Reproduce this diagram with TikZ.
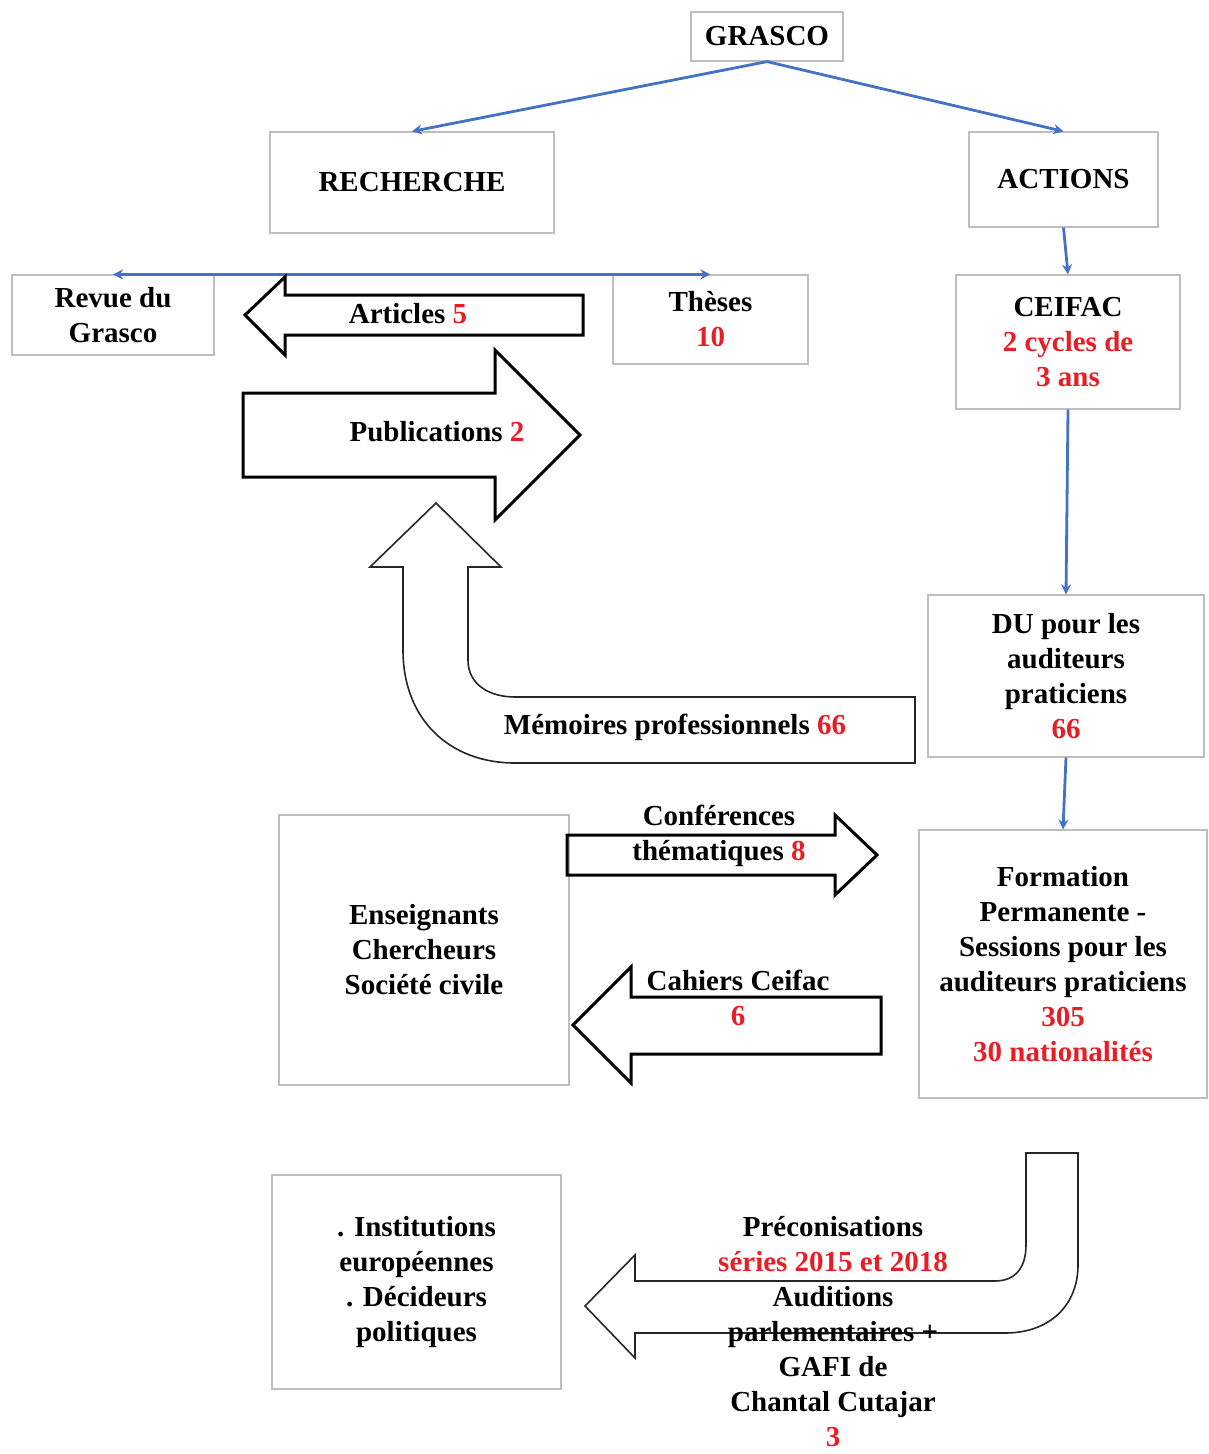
\documentclass[tikz,border=0pt]{standalone}
\usepackage{fontspec}
\setmainfont{Liberation Serif}
\usetikzlibrary{arrows.meta}
\definecolor{numred}{RGB}{232,30,38}
\definecolor{linkblue}{RGB}{68,114,196}
\definecolor{boxgray}{RGB}{190,190,190}
\newcommand{\nb}[1]{\textcolor{numred}{#1}}

\begin{document}
\begin{tikzpicture}[x=1pt,y=-1pt,
  every node/.style={font=\fontsize{29}{35}\selectfont\bfseries,align=center},
  box/.style={draw=boxgray,line width=1.2pt,inner sep=0pt},
  link/.style={draw=linkblue,line width=2.8pt,-{Stealth[length=10pt,width=10pt]}},
  bigarrow/.style={draw=black,line width=3pt,line join=miter},
  thinarrow/.style={draw=black!85,line width=1.6pt}]
\useasboundingbox (0,0) rectangle (1208,1454);

% boxes
\node[box,minimum width=152pt,minimum height=49pt] (grasco) at (767,36.5) {GRASCO};
\node[box,minimum width=284pt,minimum height=101pt] (recherche) at (412,182.5) {RECHERCHE};
\node[box,minimum width=189pt,minimum height=95pt] (actions) at (1063.5,179.5) {ACTIONS};
\node[box,minimum width=202pt,minimum height=80pt] (revue) at (113,315) {Revue du\\Grasco};
\node[box,minimum width=195pt,minimum height=89pt] (theses) at (710.5,319.5) {Thèses\\\nb{10}};
\node[box,minimum width=224pt,minimum height=134pt] (ceifac) at (1068,342) {CEIFAC\\\nb{2 cycles de}\\\nb{3 ans}};
\node[box,minimum width=276pt,minimum height=162pt] (du) at (1066,676) {DU pour les\\auditeurs\\praticiens\\\nb{66}};
\node[box,minimum width=288pt,minimum height=268pt] (formation) at (1063,964) {Formation\\Permanente -\\Sessions pour les\\auditeurs praticiens\\\nb{305}\\\nb{30 nationalités}};
\node[box,minimum width=290pt,minimum height=270pt] (enseignants) at (424,950) {Enseignants\\Chercheurs\\Société civile};
\node[box,minimum width=289pt,minimum height=214pt] (institutions) at (416.5,1282) {. Institutions\\européennes\\. Décideurs\\politiques};

% blue links
\draw[link] (grasco.south) -- (recherche.north);
\draw[link] (grasco.south) -- (actions.north);
\draw[link] (actions.south) -- (ceifac.north);
\draw[link] (ceifac.south) -- (du.north);
\draw[link] (du.south) -- (formation.north);
\draw[link,{Stealth[length=10pt,width=10pt]}-{Stealth[length=10pt,width=10pt]}] (revue.north) -- (theses.north);

% block arrows
\draw[bigarrow] (245,315) -- (285,277) -- (285,295) -- (583,295) -- (583,335) -- (285,335) -- (285,355) -- cycle;
\draw[bigarrow] (243,393) -- (495,393) -- (495,350) -- (580,435) -- (495,520) -- (495,477) -- (243,477) -- cycle;
\draw[bigarrow] (567,835) -- (835,835) -- (835,815) -- (877,855) -- (835,895) -- (835,875) -- (567,875) -- cycle;
\draw[bigarrow] (573,1025) -- (631,967) -- (631,997) -- (881,997) -- (881,1054) -- (631,1054) -- (631,1083) -- cycle;
\draw[thinarrow] (436,503) -- (501,567) -- (468,567) -- (468,660)
  .. controls (468,685) and (490,697) .. (515,697) -- (915,697) -- (915,763) -- (515,763)
  .. controls (450,763) and (403,720) .. (403,650) -- (403,567) -- (370,567) -- cycle;
\draw[thinarrow] (585,1306) -- (635,1255) -- (635,1281) -- (995,1281)
  .. controls (1015,1281) and (1026,1268) .. (1026,1245) -- (1026,1153) -- (1078,1153) -- (1078,1265)
  .. controls (1078,1305) and (1050,1333) .. (1005,1333) -- (635,1333) -- (635,1358) -- cycle;

% arrow labels
\node (articles) at (408,314) {Articles \nb{5}};
\node (publi) at (437,432) {Publications \nb{2}};
\node (memoires) at (675,727) {Mémoires professionnels \nb{66}};
\node (conf) at (719,836) {Conférences\\thématiques \nb{8}};
\node (cahiers) at (738,998) {Cahiers Ceifac\\\nb{6}};
\node (precos) at (833,1332) {Préconisations\\\nb{séries 2015 et 2018}\\Auditions\\parlementaires +\\GAFI de\\Chantal Cutajar\\\nb{3}};
\end{tikzpicture}
\end{document}
